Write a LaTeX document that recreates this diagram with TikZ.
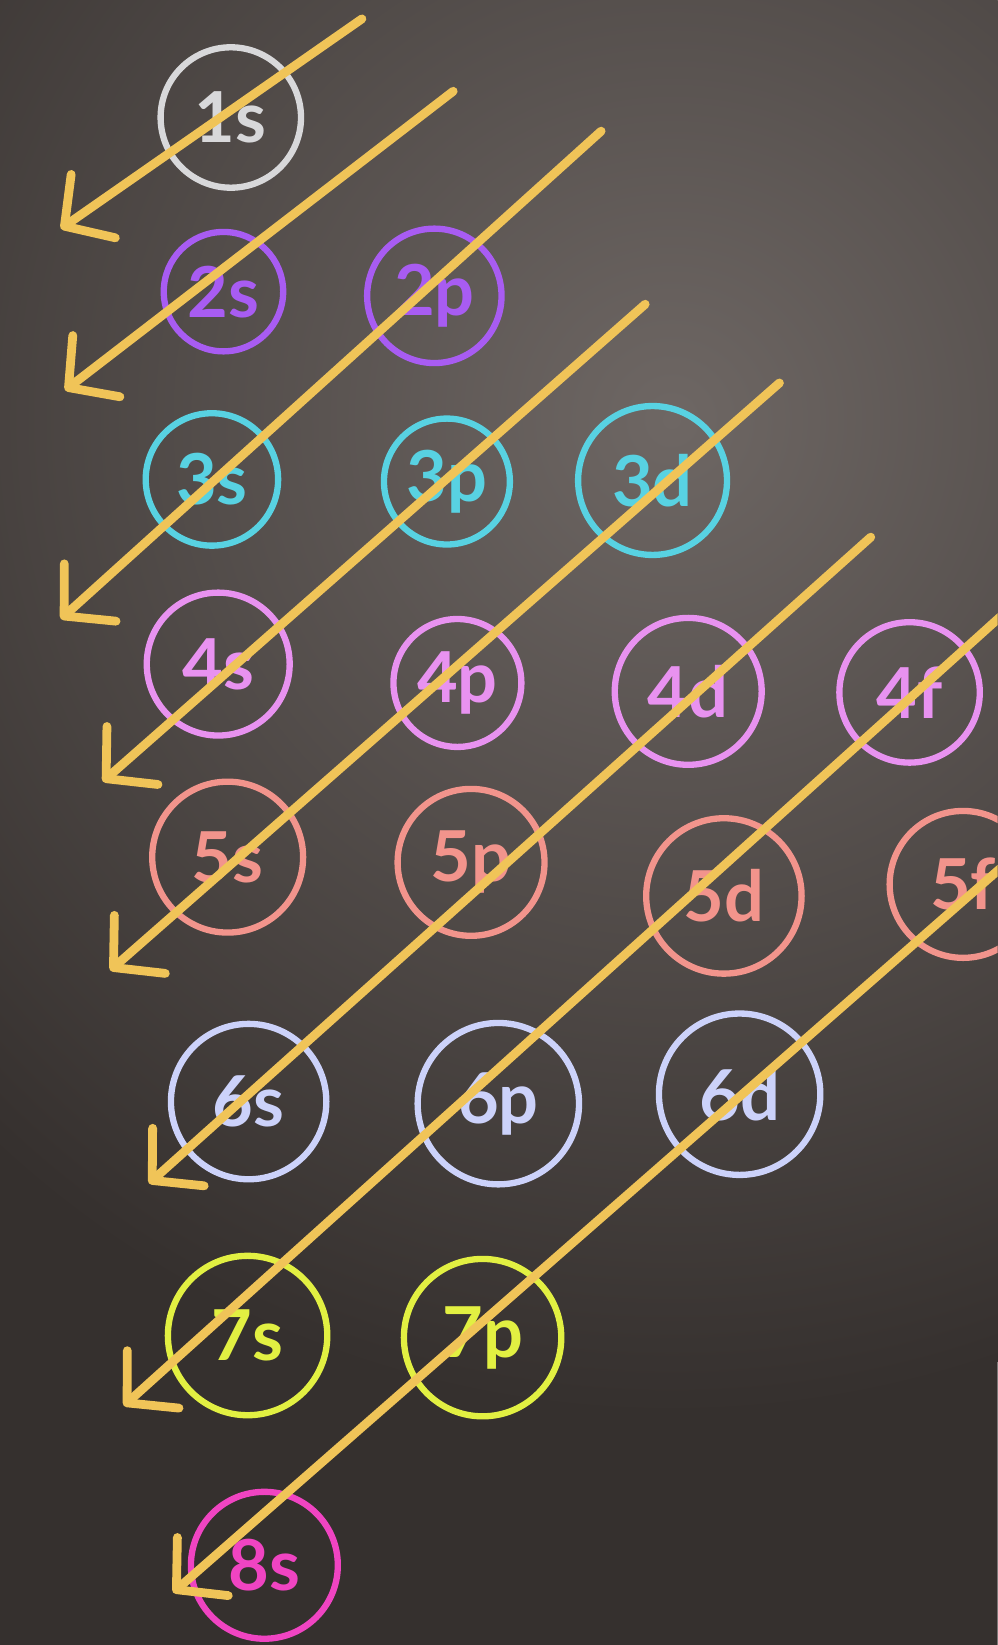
\documentclass[tikz,border=0pt]{standalone}
\usepackage{fontspec}
\setsansfont{Lato}
\usetikzlibrary{arrows.meta}
\definecolor{bgdark}{HTML}{35302E}
\definecolor{bglight}{HTML}{6E6764}
\definecolor{diagyellow}{HTML}{F0C458}
\definecolor{one}{HTML}{D8D8DA}
\definecolor{two}{HTML}{A85CF2}
\definecolor{three}{HTML}{58D2E2}
\definecolor{four}{HTML}{E892F0}
\definecolor{five}{HTML}{F2948C}
\definecolor{six}{HTML}{CCD2FA}
\definecolor{seven}{HTML}{E2F042}
\definecolor{eight}{HTML}{F044C2}

\begin{document}
\begin{tikzpicture}[x=0.021cm,y=-0.021cm,
    orb/.style={circle,draw,line width=3.6pt,inner sep=0pt,font=\sffamily\bfseries\fontsize{40}{40}\selectfont},
    diag/.style={draw=diagyellow,line width=5pt,line cap=round,
      -{Straight Barb[length=20pt,width=44pt,round]}}]
  \useasboundingbox (0,0) rectangle (951,1568);
  \clip (0,0) rectangle (951,1568);
  % board
  \fill[bgdark] (0,0) rectangle (951,1568);
  \shade[inner color=bglight,outer color=bgdark] (640,400) circle (950);

  % orbitals, one row per shell
  \node[orb,draw=one,text=one,minimum size=2.81cm] (orb1s) at (220,112) {1s};

  \node[orb,draw=two,text=two,minimum size=2.39cm] (orb2s) at (213,278) {2s};
  \node[orb,draw=two,text=two,minimum size=2.69cm] (orb2p) at (414,282) {2p};

  \node[orb,draw=three,text=three,minimum size=2.65cm] (orb3s) at (202,457) {3s};
  \node[orb,draw=three,text=three,minimum size=2.52cm] (orb3p) at (426,459) {3p};
  \node[orb,draw=three,text=three,minimum size=2.98cm] (orb3d) at (622,458) {3d};

  \node[orb,draw=four,text=four,minimum size=2.86cm] (orb4s) at (208,633) {4s};
  \node[orb,draw=four,text=four,minimum size=2.56cm] (orb4p) at (436,651) {4p};
  \node[orb,draw=four,text=four,minimum size=2.94cm] (orb4d) at (656,659) {4d};
  \node[orb,draw=four,text=four,minimum size=2.81cm] (orb4f) at (867,660) {4f};

  \node[orb,draw=five,text=five,minimum size=3.02cm] (orb5s) at (217,817) {5s};
  \node[orb,draw=five,text=five,minimum size=2.94cm] (orb5p) at (449,822) {5p};
  \node[orb,draw=five,text=five,minimum size=3.11cm] (orb5d) at (690,854) {5d};
  \node[orb,draw=five,text=five,minimum size=2.94cm] (orb5f) at (918,843) {5f};

  \node[orb,draw=six,text=six,minimum size=3.11cm] (orb6s) at (237,1050) {6s};
  \node[orb,draw=six,text=six,minimum size=3.23cm] (orb6p) at (475,1052) {6p};
  \node[orb,draw=six,text=six,minimum size=3.23cm] (orb6d) at (705,1043) {6d};

  \node[orb,draw=seven,text=seven,minimum size=3.19cm] (orb7s) at (236,1273) {7s};
  \node[orb,draw=seven,text=seven,minimum size=3.15cm] (orb7p) at (460,1275) {7p};

  \node[orb,draw=eight,text=eight,minimum size=2.94cm] (orb8s) at (252,1492) {8s};

  % filling order diagonals
  \coordinate (top1) at (345,18);  \coordinate (tip1) at (58,218);
  \coordinate (top2) at (432,87);  \coordinate (tip2) at (62,372);
  \coordinate (top3) at (573,125); \coordinate (tip3) at (58,590);
  \coordinate (top4) at (615,290); \coordinate (tip4) at (98,745);
  \coordinate (top5) at (743,365); \coordinate (tip5) at (105,925);
  \coordinate (top6) at (830,512); \coordinate (tip6) at (142,1128);
  \coordinate (top7) at (960,582); \coordinate (tip7) at (118,1340);
  \coordinate (top8) at (960,822); \coordinate (tip8) at (165,1518);
  \draw[diag] (top1) -- (tip1);
  \draw[diag] (top2) -- (tip2);
  \draw[diag] (top3) -- (tip3);
  \draw[diag] (top4) -- (tip4);
  \draw[diag] (top5) -- (tip5);
  \draw[diag] (top6) -- (tip6);
  \draw[diag] (top7) -- (tip7);
  \draw[diag] (top8) -- (tip8);
\end{tikzpicture}
\end{document}
